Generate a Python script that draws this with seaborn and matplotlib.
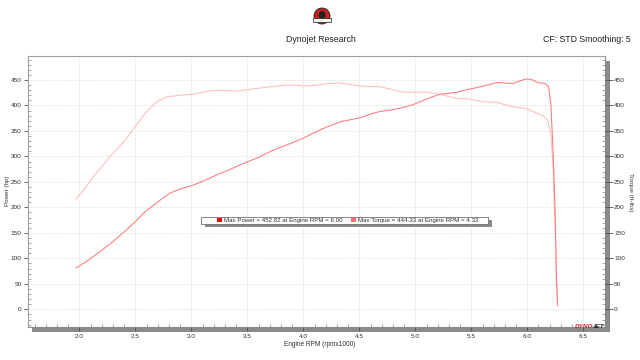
import matplotlib
matplotlib.use("Agg")
import matplotlib.pyplot as plt
import seaborn as sns
import pandas as pd
from matplotlib.patches import Rectangle, Ellipse
from matplotlib.ticker import MultipleLocator

# ---------------- data ----------------
power_rpm = [1.97, 2.05, 2.12, 2.20, 2.30, 2.42, 2.50, 2.57, 2.63, 2.69, 2.75, 2.81, 2.90,
             3.02, 3.12, 3.23, 3.33, 3.43, 3.52, 3.61, 3.68, 3.76, 3.88, 4.00, 4.09, 4.18,
             4.26, 4.33, 4.42, 4.51, 4.60, 4.68, 4.78, 4.89, 4.96, 5.04, 5.13, 5.22, 5.30,
             5.37, 5.46, 5.55, 5.64, 5.73, 5.80, 5.87, 5.93, 5.99, 6.03, 6.06, 6.09, 6.13,
             6.16, 6.19, 6.21, 6.23, 6.25, 6.26, 6.27]
power_hp = [81, 92, 103, 116, 133, 156, 172, 188, 199, 209, 219, 228, 236,
            244, 253, 264, 273, 283, 291, 299, 307, 315, 325, 336, 346, 355,
            362, 368, 372, 376, 383, 388, 391, 396, 400, 407, 415, 422, 424,
            426, 431, 435, 440, 445, 444, 443, 448, 452, 451, 449, 445, 444,
            443, 437, 404, 313, 182, 57, 8]

torque_rpm = [1.97, 2.05, 2.125, 2.20, 2.27, 2.35, 2.42, 2.51, 2.60, 2.69, 2.78, 2.90, 3.02,
              3.12, 3.23, 3.33, 3.40, 3.50, 3.61, 3.72, 3.85, 3.93, 4.00, 4.08, 4.15, 4.23,
              4.32, 4.42, 4.51, 4.60, 4.68, 4.78, 4.89, 5.00, 5.10, 5.22, 5.34, 5.49, 5.61,
              5.73, 5.82, 5.91, 5.99, 6.05, 6.14, 6.18, 6.21, 6.23, 6.25, 6.27]
torque_ftlb = [216, 238, 260, 280, 299, 318, 335, 362, 388, 407, 417, 420, 422,
               427, 430, 429, 428, 431, 434, 437, 440, 440, 438, 439, 441, 443,
               444, 441, 438, 437, 437, 432, 426, 426, 426, 422, 415, 412, 407,
               406, 400, 396, 394, 388, 380, 371, 345, 280, 150, 7]

x_ticks = [2.0, 2.5, 3.0, 3.5, 4.0, 4.5, 5.0, 5.5, 6.0, 6.5]
y_ticks = [0, 50, 100, 150, 200, 250, 300, 350, 400, 450]

max_power, max_power_rpm = 452.82, 6.00
max_torque, max_torque_rpm = 444.33, 4.32

title = "Dynojet Research"
subtitle = "CF: STD Smoothing: 5"
x_label = "Engine RPM (rpmx1000)"
y_label_left = "Power (hp)"
y_label_right = "Torque (ft-lbs)"

df_power = pd.DataFrame({"rpm": power_rpm, "value": power_hp})
df_torque = pd.DataFrame({"rpm": torque_rpm, "value": torque_ftlb})

# ---------------- style ----------------
sns.set_theme(style="white")
plt.rcParams["font.family"] = ["Liberation Sans", "DejaVu Sans"]

W, H = 640, 360
def fx(x):
    return x / W
def fy(y):
    return 1 - y / H

power_color = "#ff7a7a"
torque_color = "#ffbcbc"
text_color = "#303030"

fig = plt.figure(figsize=(6.4, 3.6), dpi=100)
fig.patch.set_facecolor("white")

# drop shadow of the plot frame
fig.add_artist(Rectangle((fx(32), fy(332)), (610 - 32) / W, (332 - 61) / H,
                         transform=fig.transFigure, facecolor="#8a8a8a",
                         edgecolor="none", zorder=0))

ax = fig.add_axes([fx(27.5), fy(327), (605 - 27.5) / W, (327 - 56) / H])
ax.set_zorder(1)
ax.set_facecolor("white")

sns.lineplot(data=df_torque, x="rpm", y="value", ax=ax, color=torque_color,
             lw=0.75, estimator=None, sort=False)
sns.lineplot(data=df_power, x="rpm", y="value", ax=ax, color=power_color,
             lw=0.75, estimator=None, sort=False)

xlim = (1.536, 6.694)
ylim = (-34.7, 497)
ax.set_xlim(*xlim)
ax.set_ylim(*ylim)
ax.set_xlabel("")
ax.set_ylabel("")

ax.set_xticks(x_ticks)
ax.set_xticklabels([f"{t:.1f}" for t in x_ticks])
ax.xaxis.set_minor_locator(MultipleLocator(0.1))
ax.set_yticks(y_ticks)
ax.set_yticklabels([str(t) for t in y_ticks])
ax.yaxis.set_minor_locator(MultipleLocator(10))

ax.tick_params(axis="x", which="major", direction="out", length=3, width=0.6,
               color="#505050", labelsize=4.6, labelcolor=text_color, pad=2.0,
               bottom=True)
ax.tick_params(axis="x", which="minor", direction="in", length=2.5, width=0.5,
               color="#808080", bottom=True)
ax.tick_params(axis="y", which="major", direction="out", length=3, width=0.6,
               color="#505050", labelsize=4.6, labelcolor=text_color, pad=1.2,
               left=True)
ax.tick_params(axis="y", which="minor", direction="in", length=2.5, width=0.5,
               color="#808080", left=True)

ax.grid(True, which="major", color="#d4d4d4", linestyle=(0, (1, 1.5)), lw=0.6)
for s in ["top", "left"]:
    ax.spines[s].set_color("#a0a0a0")
    ax.spines[s].set_linewidth(0.8)
for s in ["right", "bottom"]:
    ax.spines[s].set_color("#8a8a8a")
    ax.spines[s].set_linewidth(0.8)

ax2 = ax.twinx()
ax2.set_ylim(*ylim)
ax2.set_yticks(y_ticks)
ax2.set_yticklabels([str(t) for t in y_ticks])
ax2.yaxis.set_minor_locator(MultipleLocator(10))
ax2.tick_params(axis="y", which="major", direction="out", length=6, width=0.6,
                color="#505050", labelsize=4.6, labelcolor=text_color, pad=0.5,
                right=True)
ax2.tick_params(axis="y", which="minor", direction="in", length=2.5, width=0.5,
                color="#808080", right=True)
ax2.grid(False)
for s in ax2.spines.values():
    s.set_visible(False)

# ---------------- texts ----------------
fig.text(fx(321), fy(40), title, ha="center", va="center", fontsize=6.3, color="#202020")
fig.text(fx(631), fy(40), subtitle, ha="right", va="center", fontsize=6.3, color="#202020")
fig.text(fx(320), fy(345), x_label, ha="center", va="center", fontsize=4.7, color=text_color)
fig.text(fx(7), fy(191), y_label_left, ha="center", va="center", rotation=90,
         fontsize=4.5, color=text_color)
fig.text(fx(630), fy(192), y_label_right, ha="center", va="center", rotation=270,
         fontsize=4.5, color=text_color)

# Dynojet mark, bottom right
fig.text(fx(575), fy(326.5), "DYNO", ha="left", va="center", fontsize=4.6,
         fontweight="bold", style="italic", color="#e8202a", zorder=6)
fig.text(fx(593), fy(326.5), "JET", ha="left", va="center", fontsize=4.6,
         fontweight="bold", style="italic", color="#202020", zorder=6)

# small logo at the top
fig.add_artist(Ellipse((fx(322), fy(16)), 16 / W, 16 / H, transform=fig.transFigure,
                       facecolor="#c4201c", edgecolor="#202020", lw=0.6, zorder=3))
fig.add_artist(Ellipse((fx(322), fy(15)), 7 / W, 8 / H, transform=fig.transFigure,
                       facecolor="#202020", edgecolor="none", zorder=4))
fig.add_artist(Rectangle((fx(313), fy(22)), 18 / W, 4 / H, transform=fig.transFigure,
                         facecolor="#f0f0f0", edgecolor="#202020", lw=0.5, zorder=5))

# ---------------- legend box ----------------
lx0, lx1, ly0, ly1 = 200.7, 488.3, 216.7, 224.0
fig.add_artist(Rectangle((fx(lx0 + 4), fy(ly1 + 3)), (lx1 - lx0) / W, (ly1 - ly0) / H,
                         transform=fig.transFigure, facecolor="#8a8a8a",
                         edgecolor="none", zorder=5))
fig.add_artist(Rectangle((fx(lx0), fy(ly1)), (lx1 - lx0) / W, (ly1 - ly0) / H,
                         transform=fig.transFigure, facecolor="white",
                         edgecolor="#707070", lw=0.6, zorder=6))
fig.add_artist(Rectangle((fx(217), fy(222.3)), 4.5 / W, 4.5 / H, transform=fig.transFigure,
                         facecolor="#ff0000", edgecolor="none", zorder=7))
fig.add_artist(Rectangle((fx(351), fy(222.3)), 4.5 / W, 4.5 / H, transform=fig.transFigure,
                         facecolor="#ff6b6b", edgecolor="none", zorder=7))
fig.text(fx(224.3), fy(220.3),
         f"Max Power = {max_power:.2f} at Engine RPM = {max_power_rpm:.2f}",
         ha="left", va="center", fontsize=4.4, color=text_color, zorder=7)
fig.text(fx(358.5), fy(220.3),
         f"Max Torque = {max_torque:.2f} at Engine RPM = {max_torque_rpm:.2f}",
         ha="left", va="center", fontsize=4.4, color=text_color, zorder=7)

fig.savefig("out.png", dpi=100, facecolor="white")
